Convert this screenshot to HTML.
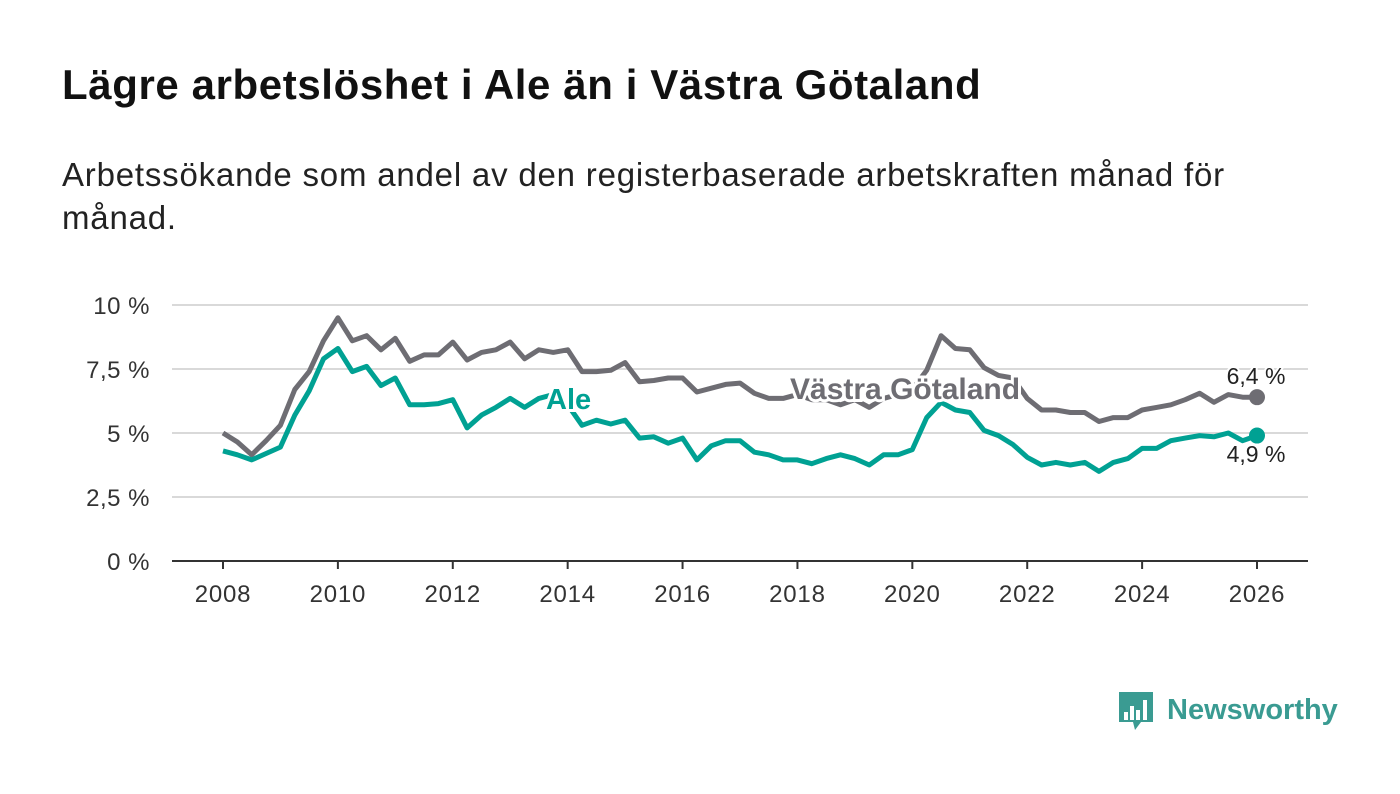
<!DOCTYPE html>
<html><head><meta charset="utf-8"><style>
body{margin:0;background:#fff;width:1400px;height:794px;overflow:hidden;font-family:"Liberation Sans",sans-serif}
h1{position:absolute;left:62px;top:61px;margin:0;font-size:42px;letter-spacing:0.6px;font-weight:bold;color:#111}
p{position:absolute;left:62px;top:153px;margin:0;font-size:33px;letter-spacing:0.8px;line-height:43px;color:#222;width:1200px}
svg{position:absolute;left:0;top:0}
</style></head><body>
<h1>Lägre arbetslöshet i Ale än i Västra Götaland</h1>
<p>Arbetssökande som andel av den registerbaserade arbetskraften månad för månad.</p>
<svg id="c" width="1400" height="794"></svg>
<script>
const years=[2008,2010,2012,2014,2016,2018,2020,2022,2024,2026];
const yTicks=[0,2.5,5,7.5,10];
const yTickLabels=["0 %","2,5 %","5 %","7,5 %","10 %"];
const startYear=2008, step=0.25;
const vg=[5.0,4.65,4.15,4.7,5.3,6.7,7.4,8.6,9.5,8.6,8.8,8.25,8.7,7.8,8.05,8.05,8.55,7.85,8.15,8.25,8.55,7.9,8.25,8.15,8.25,7.4,7.4,7.45,7.75,7.0,7.05,7.15,7.15,6.6,6.75,6.9,6.95,6.55,6.35,6.35,6.5,6.3,6.3,6.1,6.3,6.0,6.35,6.5,6.7,7.45,8.8,8.3,8.25,7.55,7.25,7.15,6.35,5.9,5.9,5.8,5.8,5.45,5.6,5.6,5.9,6.0,6.1,6.3,6.55,6.2,6.5,6.4,6.4];
const ale=[4.3,4.15,3.95,4.2,4.45,5.7,6.65,7.9,8.3,7.4,7.6,6.85,7.15,6.1,6.1,6.15,6.3,5.2,5.7,6.0,6.35,6.0,6.35,6.5,6.1,5.3,5.5,5.35,5.5,4.8,4.85,4.6,4.8,3.95,4.5,4.7,4.7,4.25,4.15,3.95,3.95,3.8,4.0,4.15,4.0,3.75,4.15,4.15,4.35,5.6,6.2,5.9,5.8,5.1,4.9,4.55,4.05,3.75,3.85,3.75,3.85,3.5,3.85,4.0,4.4,4.4,4.7,4.8,4.9,4.85,5.0,4.7,4.9];
const NS="http://www.w3.org/2000/svg";
const svg=document.getElementById('c');
const x=t=>223+(t-2008)*(1257-223)/18;
const y=v=>561-v*25.6;
function mk(tag,attrs,parent){const e=document.createElementNS(NS,tag);for(const k in attrs)e.setAttribute(k,attrs[k]);(parent||svg).appendChild(e);return e;}
yTicks.forEach((v,i)=>{
  if(v>0){const g=mk('line',{x1:172,x2:1308,y1:y(v),y2:y(v),stroke:'#d9d9d9','stroke-width':2});
  
  }
  const t=mk('text',{x:150,y:y(v)+9,'text-anchor':'end','font-size':24,'letter-spacing':0.5,fill:'#333','font-family':'Liberation Sans'});t.textContent=yTickLabels[i];
  
  
});
const ax=mk('line',{x1:172,x2:1308,y1:561,y2:561,stroke:'#333','stroke-width':2});


years.forEach(yr=>{
  mk('line',{x1:x(yr),x2:x(yr),y1:561,y2:569,stroke:'#333','stroke-width':2});
  const t=mk('text',{x:x(yr),y:602,'text-anchor':'middle','font-size':24,'letter-spacing':0.8,fill:'#333','font-family':'Liberation Sans'});t.textContent=yr;
  
  
});
function line(data,color,name){
  const d=data.map((v,i)=>(i?'L':'M')+x(startYear+i*step).toFixed(1)+','+y(v).toFixed(1)).join('');
  const p=mk('path',{d:d,fill:'none',stroke:color,'stroke-width':5,'stroke-linejoin':'round'});
  
  
  const last=data.length-1;
  const c=mk('circle',{cx:x(startYear+last*step),cy:y(data[last]),r:8,fill:color});
  
  
}
line(vg,'#6e6d73','vastra-gotaland-line');
line(ale,'#00a193','ale-line');
function lab(txt,xx,yy,col,size,bold,name,anchor){
  const t=mk('text',{x:xx,y:yy,fill:col,'font-size':size,'font-weight':bold?'bold':'normal','font-family':'Liberation Sans','text-anchor':anchor||'start',stroke:'#fff','stroke-width':bold?6:4,'paint-order':'stroke'});
  t.textContent=txt;
  
  
}
lab('Ale',546,409,'#00a193',29,true,'ale-series-label');
lab('Västra Götaland',790,399,'#6e6d73',30,true,'vg-series-label');
lab(vg[vg.length-1].toString().replace('.',',')+' %',1256,384,'#222',23,false,'vg-end-value','middle');
lab(ale[ale.length-1].toString().replace('.',',')+' %',1256,462,'#222',23,false,'ale-end-value','middle');
const g=mk('g',{});


mk('path',{d:'M1119,692h34v30h-12l-6,8l-2,-8h-14z',fill:'#3a9b92'},g);
[[1124,712,4],[1130,706,4],[1136,710,4],[1143,700,4]].forEach(r=>mk('rect',{x:r[0],y:r[1],width:r[2],height:720-r[1],fill:'#fff'},g));
const lt=mk('text',{x:1167,y:719,fill:'#3a9b92','font-size':29,'font-weight':'bold','font-family':'Liberation Sans'},g);lt.textContent='Newsworthy';
</script>
</body></html>
